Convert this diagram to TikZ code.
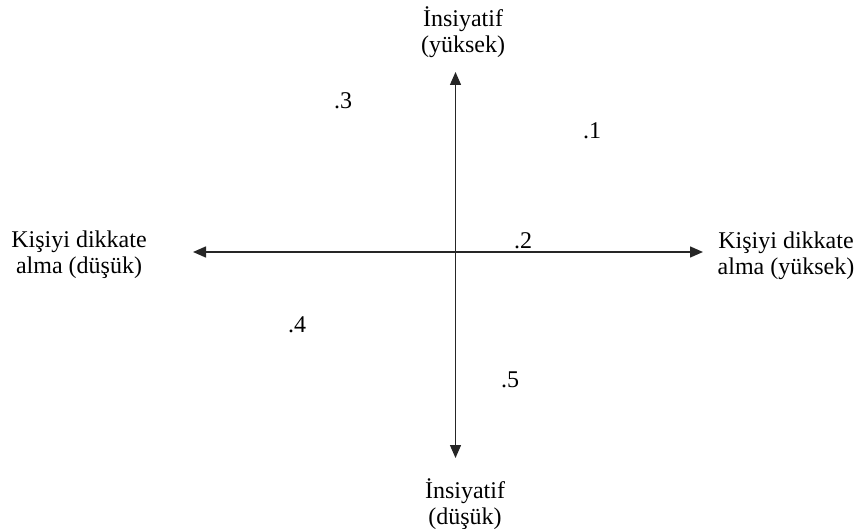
\documentclass[tikz,border=0pt]{standalone}
\usepackage{fontspec}
\setmainfont{Liberation Serif}
\usetikzlibrary{arrows.meta}
\begin{document}
\begin{tikzpicture}[x=1pt,y=-1pt,
  lbl/.style={font=\fontsize{24}{26}\selectfont, align=center, inner sep=0pt, anchor=base},
  num/.style={font=\fontsize{24}{26}\selectfont, inner sep=0pt},
  ax/.style={line width=1.4pt, draw=black!85, -{Triangle[length=13pt,width=11pt]}}]
\useasboundingbox (0,0) rectangle (856,529);
\coordinate (o) at (455.5,252);
\coordinate (top) at (455.5,72);
\coordinate (bot) at (455.5,458);
\coordinate (lft) at (193,252);
\coordinate (rgt) at (703,252);
\draw[ax] (o) -- (top);
\draw[ax] (o) -- (bot);
\draw[ax] (o) -- (lft);
\draw[ax] (o) -- (rgt);
\node[lbl] (tl) at (463,53) {İnsiyatif\\(yüksek)};
\node[lbl] (bl) at (465,524) {İnsiyatif\\(düşük)};
\node[lbl] (ll) at (79,273) {Kişiyi dikkate\\alma (düşük)};
\node[lbl] (rl) at (786,274) {Kişiyi dikkate\\alma (yüksek)};
\node[num] (n3) at (343,101) {.3};
\node[num] (n1) at (592,131) {.1};
\node[num] (n2) at (523,241) {.2};
\node[num] (n4) at (297,325) {.4};
\node[num] (n5) at (510,380) {.5};
\end{tikzpicture}
\end{document}
